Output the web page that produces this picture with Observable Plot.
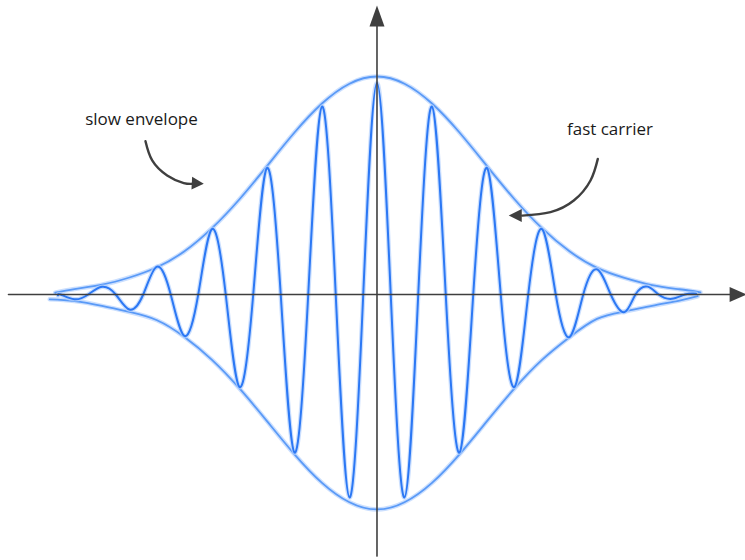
<!DOCTYPE html>
<html>
<head>
<meta charset="utf-8">
<script src="https://cdn.jsdelivr.net/npm/d3@7"></script>
<script src="https://cdn.jsdelivr.net/npm/@observablehq/plot@0.6"></script>
<style>
  html, body { margin: 0; padding: 0; background: #fff; }
  #chart { width: 745px; height: 560px; }
</style>
</head>
<body>
<div id="chart"></div>
<script>
// ---- Data (t = carrier periods from centre, v = amplitude relative to envelope peak) ----
const envUpperT = [-5.85, -5.5, -5, -4.5, -4, -3.5, -3, -2.5, -2, -1.5, -1, -0.5, 0, 0.5, 1, 1.5, 2, 2.5, 3, 3.5, 4, 4.5, 5, 5.5, 5.88];
const envUpperV = [0.008, 0.025, 0.045, 0.078, 0.125, 0.198, 0.304, 0.437, 0.589, 0.743, 0.876, 0.967, 1.0, 0.967, 0.876, 0.743, 0.589, 0.437, 0.304, 0.198, 0.122, 0.076, 0.043, 0.024, 0.01];

const envLowerT = [-5.95, -5.5, -5, -4.5, -4, -3.5, -3, -2.5, -2, -1.5, -1, -0.5, 0, 0.5, 1, 1.5, 2, 2.5, 3, 3.5, 4, 4.5, 5, 5.5, 5.83];
const envLowerV = [-0.022, -0.03, -0.052, -0.08, -0.118, -0.195, -0.300, -0.431, -0.581, -0.733, -0.864, -0.953, -0.986, -0.953, -0.864, -0.733, -0.581, -0.431, -0.300, -0.196, -0.112, -0.078, -0.052, -0.028, -0.008];

const carrierT = [-5.8, -5.75, -5.5, -5.25, -5, -4.75, -4.5, -4.25, -4, -3.75, -3.5, -3.25, -3, -2.75, -2.5, -2.25, -2, -1.75, -1.5, -1.25, -1, -0.75, -0.5, -0.25, 0,
                  0.25, 0.5, 0.75, 1, 1.25, 1.5, 1.75, 2, 2.25, 2.5, 2.75, 3, 3.25, 3.5, 3.75, 4, 4.25, 4.5, 4.7, 4.92, 5.12, 5.36, 5.6, 5.8];
const carrierV = [-0.004, 0, -0.022, 0, 0.035, 0, -0.069, 0, 0.128, 0, -0.19, 0, 0.30, 0, -0.424, 0, 0.58, 0, -0.725, 0, 0.862, 0, -0.931, 0, 0.97,
                  0, -0.931, 0, 0.862, 0, -0.725, 0, 0.58, 0, -0.424, 0, 0.30, 0, -0.195, 0, 0.115, 0, -0.081, 0, 0.036, 0, -0.02, 0, 0.004];

// axes (x-axis from left edge to right arrow tip, y-axis from bottom to top arrow tip)
const xAxisT = [-6.7, 6.55];
const yAxisV = [-1.2, 1.25];
const xArrowTip = 6.72;
const yArrowTip = 1.326;

// annotations
const labels = ["slow envelope", "fast carrier"];
const labelT = [-4.282, 4.236];
const labelV = [0.803, 0.757];

const slowArrowT = [-4.209, -4.087, -3.815, -3.513, -3.331];
const slowArrowV = [0.703, 0.615, 0.546, 0.511, 0.508];
const slowTipT = -3.149, slowTipV = 0.508;

const fastArrowT = [4.015, 3.882, 3.578, 3.155, 2.64];
const fastArrowV = [0.622, 0.523, 0.431, 0.378, 0.362];
const fastTipT = 2.396, fastTipV = 0.362;

// ---- build tables ----
const zip = (ts, vs) => ts.map((t, i) => ({t, v: vs[i]}));
const envUpper = zip(envUpperT, envUpperV);
const envLower = zip(envLowerT, envLowerV);
const carrier = zip(carrierT, carrierV);
const xAxis = xAxisT.map(t => ({t, v: 0}));
const yAxis = yAxisV.map(v => ({t: 0, v}));
const slowArrow = zip(slowArrowT, slowArrowV);
const fastArrow = zip(fastArrowT, fastArrowV);
const labelRows = labels.map((text, i) => ({text, t: labelT[i], v: labelV[i]}));

// filled triangular arrowhead symbol, tip at origin, pointing at angle (deg, screen coords)
function head(angleDeg, len, half) {
  const a = angleDeg * Math.PI / 180, c = Math.cos(a), s = Math.sin(a);
  const pts = [[0, 0], [-len, -half], [-len, half]].map(([x, y]) => [x * c - y * s, x * s + y * c]);
  return {draw(ctx) { ctx.moveTo(pts[0][0], pts[0][1]); ctx.lineTo(pts[1][0], pts[1][1]); ctx.lineTo(pts[2][0], pts[2][1]); ctx.closePath(); }};
}

const axisColor = "#3f3f3f";
const envColor = "#5a9af7";
const carColor = "#2c78f4";
const halo = "#b5d1fd";

const chart = Plot.plot({
  width: 745,
  height: 560,
  margin: 0,
  x: {domain: [-6.845, 6.7], axis: null},
  y: {domain: [-1.2202, 1.3486], axis: null},
  style: {background: "#fff"},
  marks: [
    // envelope halo + line
    Plot.line(envUpper, {x: "t", y: "v", curve: "natural", stroke: halo, strokeWidth: 4.5, strokeOpacity: 0.7}),
    Plot.line(envLower, {x: "t", y: "v", curve: "natural", stroke: halo, strokeWidth: 4.5, strokeOpacity: 0.7}),
    Plot.line(envUpper, {x: "t", y: "v", curve: "natural", stroke: envColor, strokeWidth: 1.8}),
    Plot.line(envLower, {x: "t", y: "v", curve: "natural", stroke: envColor, strokeWidth: 1.8}),
    // carrier halo + line
    Plot.line(carrier, {x: "t", y: "v", curve: "natural", stroke: halo, strokeWidth: 4.5, strokeOpacity: 0.7}),
    Plot.line(carrier, {x: "t", y: "v", curve: "natural", stroke: carColor, strokeWidth: 2}),
    // axes
    Plot.line(xAxis, {x: "t", y: "v", stroke: axisColor, strokeWidth: 1.6}),
    Plot.line(yAxis, {x: "t", y: "v", stroke: axisColor, strokeWidth: 1.6}),
    Plot.dot([{t: xArrowTip, v: 0}], {x: "t", y: "v", symbol: head(0, 17, 7.5), fill: axisColor, stroke: "none"}),
    Plot.dot([{t: 0, v: yArrowTip}], {x: "t", y: "v", symbol: head(-90, 21, 7.5), fill: axisColor, stroke: "none"}),
    // annotation arrows
    Plot.line(slowArrow, {x: "t", y: "v", curve: "natural", stroke: axisColor, strokeWidth: 2.4}),
    Plot.dot([{t: slowTipT, v: slowTipV}], {x: "t", y: "v", symbol: head(3, 12, 6.5), fill: axisColor, stroke: "none"}),
    Plot.line(fastArrow, {x: "t", y: "v", curve: "natural", stroke: axisColor, strokeWidth: 2.4}),
    Plot.dot([{t: fastTipT, v: fastTipV}], {x: "t", y: "v", symbol: head(180, 13, 6.5), fill: axisColor, stroke: "none"}),
    // labels
    Plot.text(labelRows, {x: "t", y: "v", text: "text", fontSize: 17, fontFamily: "Open Sans", fill: "#1a1a1a"})
  ]
});
document.getElementById("chart").appendChild(chart);
</script>
</body>
</html>
